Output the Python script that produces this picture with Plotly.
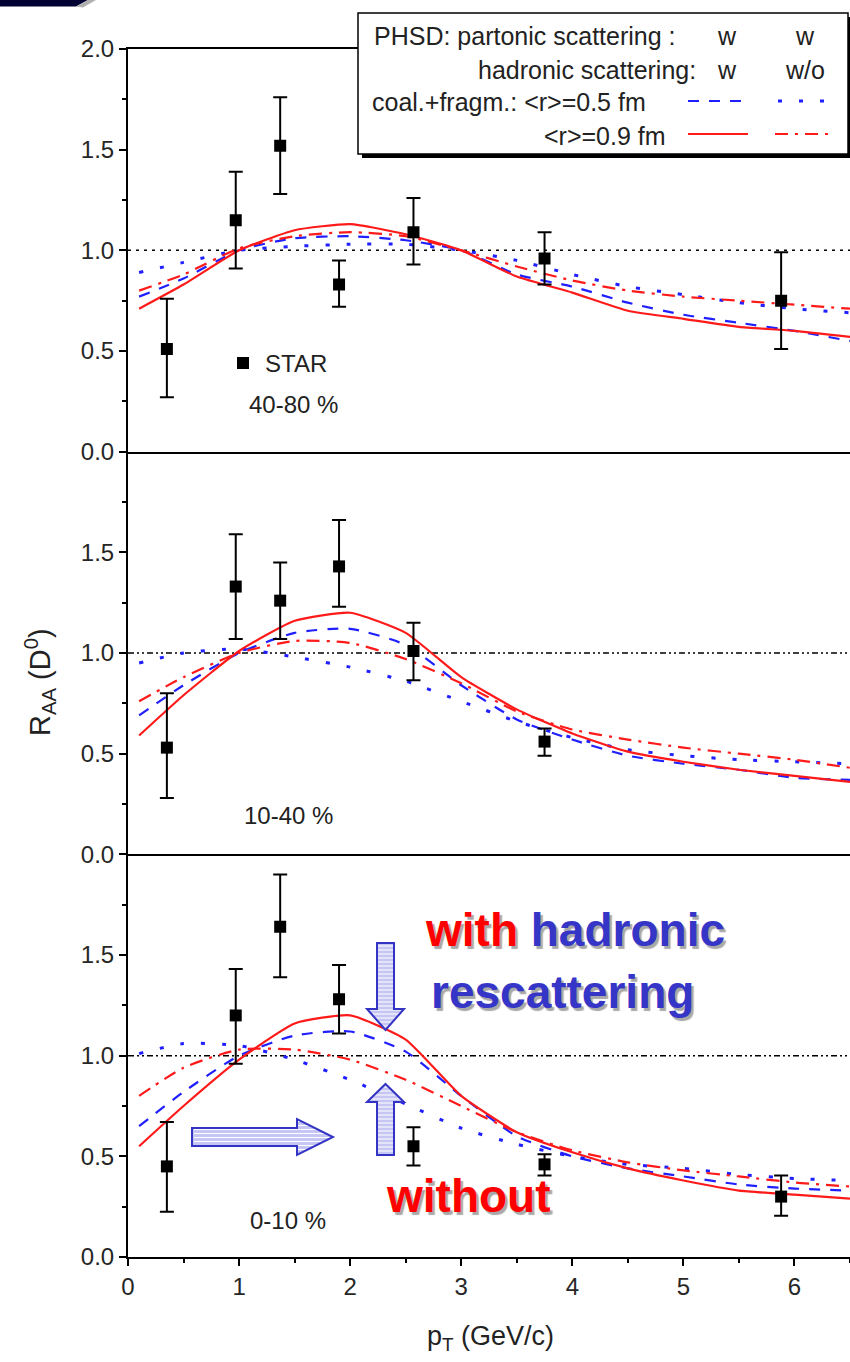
import plotly.graph_objects as go

# ---------------- data ----------------
pt_grid = [0.1, 0.5, 1.0, 1.5, 2.0, 2.5, 3.0, 3.5, 4.0, 4.5, 5.0, 5.5, 6.0, 6.5]

# 40-80 %
c1_red_solid = [0.71, 0.83, 1.00, 1.10, 1.13, 1.08, 1.00, 0.87, 0.79, 0.70, 0.66, 0.62, 0.60, 0.57]
c1_red_dashdot = [0.80, 0.88, 1.01, 1.07, 1.09, 1.07, 1.00, 0.92, 0.85, 0.80, 0.77, 0.75, 0.73, 0.71]
c1_blue_dash = [0.77, 0.86, 1.00, 1.06, 1.07, 1.05, 1.00, 0.88, 0.82, 0.74, 0.68, 0.64, 0.60, 0.55]
c1_blue_dot = [0.89, 0.94, 1.00, 1.02, 1.03, 1.03, 1.00, 0.95, 0.88, 0.82, 0.78, 0.74, 0.71, 0.69]

# 10-40 %
c2_red_solid = [0.59, 0.79, 1.01, 1.16, 1.20, 1.10, 0.88, 0.72, 0.60, 0.51, 0.46, 0.42, 0.39, 0.36]
c2_red_dashdot = [0.76, 0.88, 1.00, 1.06, 1.05, 0.97, 0.85, 0.71, 0.62, 0.57, 0.53, 0.50, 0.47, 0.43]
c2_blue_dash = [0.69, 0.84, 1.00, 1.10, 1.12, 1.04, 0.84, 0.67, 0.57, 0.49, 0.45, 0.42, 0.38, 0.37]
c2_blue_dot = [0.95, 1.00, 1.02, 0.98, 0.93, 0.86, 0.76, 0.66, 0.58, 0.52, 0.49, 0.47, 0.46, 0.45]

# 0-10 %
c3_red_solid = [0.55, 0.75, 0.98, 1.16, 1.20, 1.08, 0.80, 0.62, 0.52, 0.44, 0.38, 0.33, 0.31, 0.29]
c3_red_dashdot = [0.80, 0.94, 1.03, 1.03, 0.98, 0.88, 0.75, 0.62, 0.53, 0.47, 0.43, 0.40, 0.37, 0.35]
c3_blue_dash = [0.65, 0.82, 1.00, 1.10, 1.12, 1.02, 0.80, 0.60, 0.50, 0.44, 0.40, 0.36, 0.34, 0.33]
c3_blue_dot = [1.01, 1.06, 1.05, 0.98, 0.88, 0.76, 0.64, 0.56, 0.50, 0.46, 0.44, 0.41, 0.39, 0.38]

# STAR data
star1_pt = [0.35, 0.97, 1.37, 1.90, 2.57, 3.75, 5.88]
star1_raa = [0.51, 1.15, 1.52, 0.83, 1.09, 0.96, 0.75]
star1_up = [0.25, 0.24, 0.24, 0.12, 0.17, 0.13, 0.24]
star1_dn = [0.24, 0.24, 0.24, 0.11, 0.16, 0.13, 0.24]

star2_pt = [0.35, 0.97, 1.37, 1.90, 2.57, 3.75]
star2_raa = [0.53, 1.33, 1.26, 1.43, 1.01, 0.56]
star2_up = [0.27, 0.26, 0.19, 0.23, 0.14, 0.065]
star2_dn = [0.25, 0.26, 0.19, 0.20, 0.145, 0.07]

star3_pt = [0.35, 0.97, 1.37, 1.90, 2.57, 3.75, 5.88]
star3_raa = [0.45, 1.20, 1.64, 1.28, 0.55, 0.46, 0.30]
star3_up = [0.22, 0.23, 0.26, 0.17, 0.095, 0.05, 0.105]
star3_dn = [0.225, 0.24, 0.25, 0.17, 0.095, 0.055, 0.095]

panel_labels = ["40-80 %", "10-40 %", "0-10 %"]
ref_level = 1.0

# ---------------- geometry helpers ----------------
W, H = 850, 1362
ML, MR, MT, MB = 128, 0, 49, 105
PW = W - ML - MR
PH = H - MT - MB
FONT = "Arial, 'Liberation Sans', sans-serif"
BLUE = "#1f1fff"
RED = "#ff1a1a"


def px(x):
    return (x - ML) / PW


def py(y):
    return (H - MB - y) / PH


def path(points):
    return "M " + " L ".join(f"{px(a):.5f},{py(b):.5f}" for a, b in points) + " Z"


def seg_path(segs):
    return " ".join(f"M {px(a):.5f},{py(b):.5f} L {px(c):.5f},{py(d):.5f}" for a, b, c, d in segs)


fig = go.Figure()

panels = [
    (c1_red_solid, c1_red_dashdot, c1_blue_dash, c1_blue_dot, star1_pt, star1_raa, star1_up, star1_dn),
    (c2_red_solid, c2_red_dashdot, c2_blue_dash, c2_blue_dot, star2_pt, star2_raa, star2_up, star2_dn),
    (c3_red_solid, c3_red_dashdot, c3_blue_dash, c3_blue_dot, star3_pt, star3_raa, star3_up, star3_dn),
]

for i, (rs, rd, bd, bo, spt, sr, su, sd) in enumerate(panels):
    xa = "x" if i == 0 else f"x{i+1}"
    ya = "y" if i == 0 else f"y{i+1}"
    zdash = "3px,5px" if i == 0 else "6px,3px,2px,3px,2px,3px"
    fig.add_trace(go.Scatter(x=[0, 6.5], y=[ref_level, ref_level], mode="lines",
                             line=dict(color="black", width=1.5, dash=zdash),
                             xaxis=xa, yaxis=ya, showlegend=False, hoverinfo="skip"))
    fig.add_trace(go.Scatter(x=pt_grid, y=bo, mode="lines", line=dict(color=BLUE, width=3, dash="4px,17px", shape="spline", smoothing=0.6),
                             xaxis=xa, yaxis=ya, showlegend=False))
    fig.add_trace(go.Scatter(x=pt_grid, y=bd, mode="lines", line=dict(color=BLUE, width=2.2, dash="11px,10px", shape="spline", smoothing=0.6),
                             xaxis=xa, yaxis=ya, showlegend=False))
    fig.add_trace(go.Scatter(x=pt_grid, y=rd, mode="lines", line=dict(color=RED, width=2.2, dash="13px,7px,3px,7px", shape="spline", smoothing=0.6),
                             xaxis=xa, yaxis=ya, showlegend=False))
    fig.add_trace(go.Scatter(x=pt_grid, y=rs, mode="lines", line=dict(color=RED, width=2.2, shape="spline", smoothing=0.5),
                             xaxis=xa, yaxis=ya, showlegend=False))
    fig.add_trace(go.Scatter(x=spt, y=sr, mode="markers",
                             marker=dict(symbol="square", size=12, color="black"),
                             error_y=dict(type="data", symmetric=False, array=su, arrayminus=sd,
                                          color="black", thickness=2, width=7),
                             xaxis=xa, yaxis=ya, showlegend=False))

axis_common = dict(showline=True, linecolor="black", linewidth=2, showgrid=False, zeroline=False)
tickfont = dict(family=FONT, size=24, color="#262626")

layout = dict(
    width=W, height=H,
    margin=dict(l=ML, r=MR, t=MT, b=MB),
    paper_bgcolor="white", plot_bgcolor="white",
    showlegend=False,
)
for i in range(3):
    xk = "xaxis" if i == 0 else f"xaxis{i+1}"
    yk = "yaxis" if i == 0 else f"yaxis{i+1}"
    ya = "y" if i == 0 else f"y{i+1}"
    d0 = (2 - i) / 3
    d1 = (3 - i) / 3
    xa = dict(axis_common, domain=[0, 1], anchor=ya, range=[0, 6.5], mirror=(i == 0))
    if i == 2:
        xa.update(ticks="outside", ticklen=7, tickwidth=1.5, tickcolor="black",
                  tickmode="linear", tick0=0, dtick=1, tickfont=tickfont,
                  minor=dict(ticks="outside", dtick=0.5, ticklen=4, tickwidth=1.5, tickcolor="black"))
    else:
        xa.update(showticklabels=False, ticks="")
    layout[xk] = xa
    tv = [0, 0.5, 1.0, 1.5, 2.0] if i == 0 else [0, 0.5, 1.0, 1.5]
    layout[yk] = dict(axis_common, domain=[d0, d1], range=[0, 2], mirror=False,
                      tickmode="array", tickvals=tv, tickformat=".1f",
                      ticks="outside", ticklen=7, tickwidth=1.5, tickcolor="black",
                      tickfont=tickfont,
                      minor=dict(ticks="outside", tickvals=[0.25, 0.75, 1.25, 1.75], ticklen=4,
                                 tickwidth=1.5, tickcolor="black"))
fig.update_layout(**layout)

shapes = []
annotations = []

# top-left slide decoration
shapes.append(dict(type="path", xref="paper", yref="paper", layer="above",
                   path=path([(0, 0), (88, 0), (76, 6.5), (0, 6.5)]), fillcolor="#000033", line=dict(width=0)))
shapes.append(dict(type="path", xref="paper", yref="paper", layer="above",
                   path=path([(88, 0), (96, 0), (83, 7.5), (76, 6.5)]), fillcolor="#b0b0b0", line=dict(width=0)))

# legend box with shadow
shapes.append(dict(type="rect", xref="paper", yref="paper", x0=px(362), x1=px(852), y0=py(17), y1=py(158),
                   fillcolor="black", line=dict(width=0), layer="above"))
shapes.append(dict(type="rect", xref="paper", yref="paper", x0=px(358), x1=px(848), y0=py(13), y1=py(154),
                   fillcolor="white", line=dict(color="black", width=1.5), layer="above"))

lfont = dict(family=FONT, size=25, color="#222222")


def txt(x, y, text, xanchor="left", font=lfont, yanchor="middle"):
    annotations.append(dict(xref="paper", yref="paper", x=px(x), y=py(y), text=text, showarrow=False,
                            xanchor=xanchor, yanchor=yanchor, font=font))


txt(372, 36, "PHSD: partonic scattering :")
txt(727, 36, "w", xanchor="center")
txt(805, 36, "w", xanchor="center")
txt(698, 70, "hadronic scattering:", xanchor="right")
txt(727, 70, "w", xanchor="center")
txt(805, 70, "w/o", xanchor="center")
txt(370, 102, "coal.+fragm.: &lt;r&gt;=0.5 fm")
txt(668, 136, "&lt;r&gt;=0.9 fm", xanchor="right")

legend_samples = [
    (688, 748, 101, BLUE, "11px,10px", 2.2),
    (778, 830, 101, BLUE, "4px,17px", 3),
    (688, 748, 134, RED, "solid", 2.2),
    (775, 830, 134, RED, "13px,7px,3px,7px", 2.2),
]
for x0, x1, yy, col, dash, w in legend_samples:
    shapes.append(dict(type="line", xref="paper", yref="paper", x0=px(x0), x1=px(x1), y0=py(yy), y1=py(yy),
                       line=dict(color=col, width=w, dash=dash), layer="above"))

# STAR marker + label
shapes.append(dict(type="rect", xref="paper", yref="paper", x0=px(237), x1=px(249), y0=py(357), y1=py(369),
                   fillcolor="black", line=dict(width=0)))
pfont = dict(family=FONT, size=24, color="#222222")
txt(263, 363, "STAR", font=pfont)
txt(247, 405, panel_labels[0], font=pfont)
txt(242, 815, panel_labels[1], font=pfont)
txt(248, 1220, panel_labels[2], font=pfont)

# axis titles
annotations.append(dict(xref="paper", yref="paper", x=px(40), y=py(682), text="R<sub>AA</sub> (D<sup>0</sup>)",
                        textangle=-90, showarrow=False, xanchor="center", yanchor="middle",
                        font=dict(family=FONT, size=29, color="#222222")))
annotations.append(dict(xref="paper", yref="paper", x=px(490), y=py(1338), text="p<sub>T</sub> (GeV/c)",
                        showarrow=False, xanchor="center", yanchor="middle",
                        font=dict(family=FONT, size=27, color="#222222")))

# big texts with drop shadow
SHADOW = "2.5px 2.5px 1px #a8a8a8"
big = dict(family=FONT, size=46, color="#3535c8", shadow=SHADOW)
annotations.append(dict(xref="paper", yref="paper", x=px(423), y=py(930),
                        text="<b><span style='color:#ff0000'>with</span> hadronic</b>",
                        showarrow=False, xanchor="left", yanchor="middle", font=big))
annotations.append(dict(xref="paper", yref="paper", x=px(429), y=py(992), text="<b>rescattering</b>",
                        showarrow=False, xanchor="left", yanchor="middle", font=big))
annotations.append(dict(xref="paper", yref="paper", x=px(384), y=py(1196), text="<b>without</b>",
                        showarrow=False, xanchor="left", yanchor="middle", font=dict(big, color="#ff0000")))

# block arrows
AFILL = "#c6c6f4"
AEDGE = "#3333c4"
right_arrow = [(192, 1128), (297, 1128), (297, 1119), (333, 1137), (297, 1155), (297, 1146), (192, 1146)]
down_arrow = [(377, 943), (394, 943), (394, 1009), (404, 1009), (385.5, 1030), (367, 1009), (377, 1009)]
up_arrow = [(385.5, 1084), (404, 1102), (394, 1102), (394, 1155), (377, 1155), (377, 1102), (367, 1102)]
for poly in (right_arrow, down_arrow, up_arrow):
    shapes.append(dict(type="path", xref="paper", yref="paper", path=path(poly), fillcolor=AFILL,
                       line=dict(width=0), layer="above"))

stripes = []
y = 1121.5
while y < 1153:
    if 1128 < y < 1146:
        stripes.append((194, y, 297, y))
    hw = 36 * (1 - abs(y - 1137) / 18)
    if hw > 1:
        stripes.append((297, y, 297 + hw - 1, y))
    y += 4
y = 946
while y < 1028:
    if y < 1009:
        stripes.append((378, y, 393, y))
    else:
        hw = 18.5 * (1030 - y) / 21 - 1
        if hw > 0.5:
            stripes.append((385.5 - hw, y, 385.5 + hw, y))
    y += 4
y = 1087
while y < 1154:
    if y > 1102:
        stripes.append((378, y, 393, y))
    else:
        hw = 18.5 * (y - 1084) / 18 - 1
        if hw > 0.5:
            stripes.append((385.5 - hw, y, 385.5 + hw, y))
    y += 4
shapes.append(dict(type="path", xref="paper", yref="paper", path=seg_path(stripes),
                   line=dict(color="white", width=1.2), layer="above"))
for poly in (right_arrow, down_arrow, up_arrow):
    shapes.append(dict(type="path", xref="paper", yref="paper", path=path(poly), fillcolor="rgba(0,0,0,0)",
                       line=dict(color=AEDGE, width=2), layer="above"))

fig.update_layout(shapes=shapes, annotations=annotations)
fig.write_html("out.html", config={"displayModeBar": False},
               post_script="document.body.style.margin='0';document.body.style.overflow='hidden';")
